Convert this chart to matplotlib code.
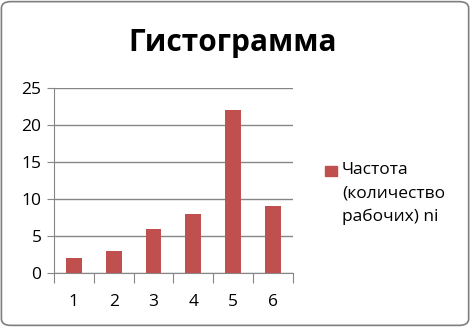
import matplotlib.pyplot as plt
import numpy as np
from matplotlib.patches import FancyBboxPatch

categories = ['1', '2', '3', '4', '5', '6']
values = [2, 3, 6, 8, 22, 9]
series_name = 'Частота\n(количество\nрабочих) ni'
title = 'Гистограмма'

bar_color = '#C0504D'
grid_color = '#868686'

plt.rcParams['font.family'] = ['Open Sans', 'DejaVu Sans']

fig = plt.figure(figsize=(4.71, 3.27), dpi=100)
ax = fig.add_axes([0.1146, 0.165, 0.507, 0.566])

x = np.arange(1, len(values) + 1)
ax.bar(x, values, width=0.4, color=bar_color, zorder=3)

ax.set_xlim(0.5, len(values) + 0.5)
ax.set_ylim(0, 25)
ax.set_yticks(range(0, 26, 5))
ax.yaxis.grid(True, color=grid_color, linewidth=1)
ax.set_axisbelow(True)

# category separators as major ticks, labels on minor ticks
ax.set_xticks(np.arange(0.5, len(values) + 1, 1))
ax.set_xticklabels([])
ax.set_xticks(x, minor=True)
ax.set_xticklabels(categories, minor=True)
ax.tick_params(axis='x', which='major', length=7, color=grid_color, direction='out')
ax.tick_params(axis='x', which='minor', length=0, pad=15, labelsize=12.5)
ax.tick_params(axis='y', length=5, color=grid_color, labelsize=12.5, pad=4)

for side in ['top', 'right']:
    ax.spines[side].set_visible(False)
for side in ['left', 'bottom']:
    ax.spines[side].set_color(grid_color)

fig.text(0.493, 0.868, title, ha='center', va='center', fontsize=21.5, fontweight='bold')

# legend
fig.patches.append(plt.Rectangle((325 / 471, 1 - 176 / 327), 12 / 471, 10 / 327,
                                 transform=fig.transFigure, color=bar_color))
fig.text(342 / 471, 1 - 162 / 327, series_name, ha='left', va='top',
         fontsize=12.5, linespacing=1.62)

# outer border
fig.patches.append(FancyBboxPatch((0.003, 0.005), 0.992, 0.99,
                                  boxstyle='round,pad=0,rounding_size=0.02',
                                  transform=fig.transFigure, fill=False,
                                  edgecolor='#7f7f7f', linewidth=1.2))

fig.savefig('out.png', dpi=100)
